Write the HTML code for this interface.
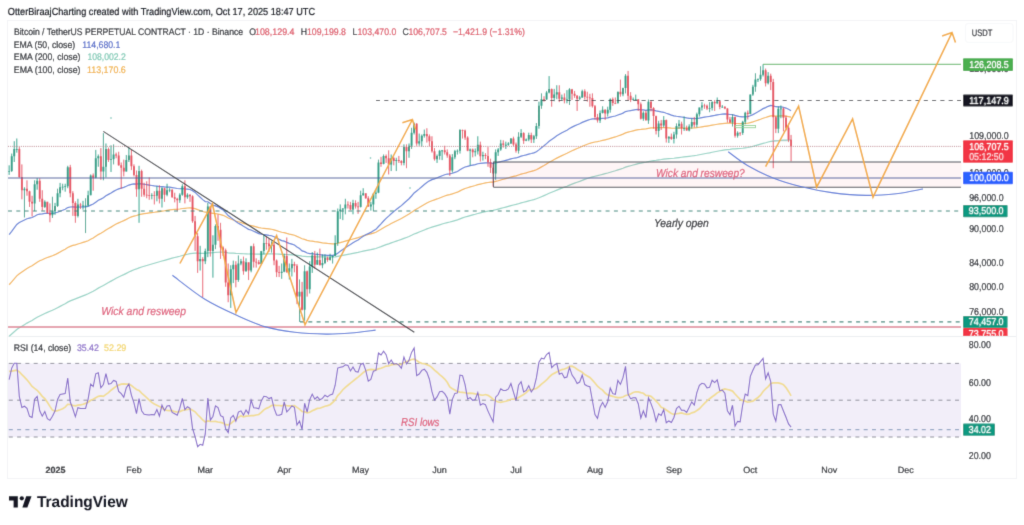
<!DOCTYPE html><html><head><meta charset="utf-8"><style>
html,body{margin:0;padding:0;background:#fff;width:1024px;height:525px;overflow:hidden}
svg{position:absolute;left:0;top:0;font-family:"Liberation Sans", sans-serif;text-rendering:geometricPrecision;will-change:transform}
</style></head><body>
<svg width="1024" height="525" viewBox="0 0 1024 525">
<defs><filter id="bl" x="0" y="0" width="1024" height="525" filterUnits="userSpaceOnUse"><feConvolveMatrix order="3" kernelMatrix="0.01331 0.08876 0.01331 0.08876 0.59172 0.08876 0.01331 0.08876 0.01331" edgeMode="duplicate" preserveAlpha="false"/></filter></defs>
<rect width="1024" height="525" fill="#fff"/>
<g filter="url(#bl)">
<rect x="7.5" y="20.5" width="1009" height="458" fill="#fff" stroke="#f3f4f6" stroke-width="1"/>
<line x1="8" y1="336.5" x2="1016" y2="336.5" stroke="#eceef1" stroke-width="1"/>
<rect x="8" y="363.40" width="953" height="73.60" fill="#7e57c2" fill-opacity="0.1"/>
<line x1="8" y1="363.40" x2="961" y2="363.40" stroke="#8d8f9a" stroke-width="1" stroke-dasharray="4 4.3" stroke-dashoffset="-0.8"/>
<line x1="8" y1="400.20" x2="961" y2="400.20" stroke="#8d8f9a" stroke-width="1" stroke-dasharray="4 4.3" stroke-dashoffset="-0.8"/>
<line x1="8" y1="437.00" x2="961" y2="437.00" stroke="#8d8f9a" stroke-width="1" stroke-dasharray="4 4.3" stroke-dashoffset="-0.8"/>
<line x1="8" y1="429.7" x2="961" y2="429.7" stroke="#7b93b5" stroke-width="1" stroke-dasharray="4 4.3" stroke-dashoffset="-0.8"/>
<path d="M9.15 336.17 L11.70 334.01 L14.25 331.78 L16.79 329.58 L19.34 327.80 L21.89 326.22 L24.44 324.64 L26.98 323.11 L29.53 321.75 L32.08 320.42 L34.62 318.86 L37.17 317.27 L39.72 315.94 L42.27 314.72 L44.81 313.46 L47.36 312.35 L49.91 311.28 L52.45 310.18 L55.00 309.03 L57.55 307.73 L60.09 306.37 L62.64 305.02 L65.19 303.68 L67.73 302.12 L70.28 300.91 L72.83 299.83 L75.38 298.92 L77.92 297.88 L80.47 296.87 L83.02 295.87 L85.56 294.88 L88.11 293.79 L90.66 292.45 L93.21 291.17 L95.75 289.65 L98.30 288.13 L100.85 286.82 L103.39 285.47 L105.94 283.90 L108.49 282.50 L111.03 281.11 L113.58 279.67 L116.13 278.27 L118.68 277.01 L121.22 275.79 L123.77 274.63 L126.32 273.35 L128.86 272.03 L131.41 270.85 L133.96 269.80 L136.50 268.93 L139.05 267.85 L141.60 267.00 L144.15 266.22 L146.69 265.46 L149.24 264.72 L151.79 263.97 L154.33 263.25 L156.88 262.47 L159.43 261.79 L161.97 261.00 L164.52 260.30 L167.07 259.55 L169.62 258.80 L172.16 258.15 L174.71 257.52 L177.26 256.92 L179.80 256.26 L182.35 255.51 L184.90 254.89 L187.44 254.26 L189.99 253.64 L192.54 253.31 L195.09 253.14 L197.63 253.22 L200.18 253.28 L202.73 253.35 L205.27 253.33 L207.82 252.84 L210.37 252.82 L212.91 252.74 L215.46 252.47 L218.01 252.23 L220.56 252.19 L223.10 252.17 L225.65 252.46 L228.20 252.87 L230.74 253.03 L233.29 253.15 L235.84 253.41 L238.38 253.51 L240.93 253.58 L243.48 253.75 L246.03 253.84 L248.57 254.00 L251.12 253.93 L253.67 254.00 L256.21 254.08 L258.76 254.18 L261.31 254.15 L263.85 254.04 L266.40 253.93 L268.95 253.86 L271.50 253.77 L274.04 253.83 L276.59 254.01 L279.14 254.20 L281.68 254.37 L284.23 254.39 L286.78 254.55 L289.32 254.69 L291.87 254.78 L294.42 254.89 L296.97 255.29 L299.51 255.64 L302.06 256.15 L304.61 256.29 L307.15 256.61 L309.70 256.71 L312.25 256.70 L314.79 256.77 L317.34 256.81 L319.89 256.89 L322.44 256.95 L324.98 256.96 L327.53 256.99 L330.08 256.99 L332.62 256.98 L335.17 256.84 L337.72 256.36 L340.26 255.87 L342.81 255.38 L345.36 254.85 L347.91 254.32 L350.45 253.86 L353.00 253.32 L355.55 252.83 L358.09 252.36 L360.64 251.75 L363.19 251.14 L365.73 250.58 L368.28 250.12 L370.83 249.65 L373.38 249.06 L375.92 248.46 L378.47 247.53 L381.02 246.62 L383.56 245.63 L386.11 244.68 L388.66 243.81 L391.20 242.88 L393.75 242.00 L396.30 241.11 L398.85 240.24 L401.39 239.41 L403.94 238.40 L406.49 237.45 L409.03 236.45 L411.58 235.30 L414.13 234.06 L416.67 233.07 L419.22 232.06 L421.77 231.01 L424.31 229.94 L426.86 228.91 L429.41 227.96 L431.96 227.13 L434.50 226.41 L437.05 225.65 L439.60 224.85 L442.14 224.05 L444.69 223.28 L447.24 222.55 L449.79 222.01 L452.33 221.32 L454.88 220.57 L457.43 219.83 L459.97 218.85 L462.52 217.88 L465.07 217.02 L467.61 216.31 L470.16 215.60 L472.71 214.92 L475.26 214.25 L477.80 213.51 L480.35 212.90 L482.90 212.29 L485.44 211.70 L487.99 211.18 L490.54 210.73 L493.08 210.34 L495.63 209.73 L498.18 209.09 L500.73 208.39 L503.27 207.72 L505.82 207.05 L508.37 206.37 L510.91 205.65 L513.46 205.00 L516.01 204.43 L518.55 203.71 L521.10 202.95 L523.65 202.29 L526.20 201.62 L528.74 200.91 L531.29 200.26 L533.84 199.58 L536.38 198.79 L538.93 197.78 L541.48 196.69 L544.02 195.62 L546.57 194.48 L549.12 193.31 L551.66 192.26 L554.21 191.19 L556.76 190.10 L559.31 189.10 L561.85 188.10 L564.40 187.14 L566.95 186.19 L569.49 185.12 L572.04 184.12 L574.59 183.16 L577.13 182.25 L579.68 181.33 L582.23 180.34 L584.78 179.44 L587.32 178.55 L589.87 177.68 L592.42 176.91 L594.96 176.28 L597.51 175.69 L600.06 175.02 L602.61 174.33 L605.15 173.69 L607.70 173.00 L610.25 172.21 L612.79 171.47 L615.34 170.74 L617.89 169.89 L620.43 169.08 L622.98 168.20 L625.53 167.19 L628.08 166.43 L630.62 165.72 L633.17 165.01 L635.72 164.31 L638.26 163.67 L640.81 163.20 L643.36 162.67 L645.90 162.23 L648.45 161.59 L651.00 161.03 L653.55 160.56 L656.09 160.26 L658.64 159.87 L661.19 159.52 L663.73 159.11 L666.28 158.90 L668.83 158.68 L671.37 158.48 L673.92 158.23 L676.47 157.90 L679.01 157.55 L681.56 157.25 L684.11 156.95 L686.66 156.68 L689.20 156.37 L691.75 156.02 L694.30 155.70 L696.84 155.27 L699.39 154.77 L701.94 154.25 L704.49 153.75 L707.03 153.27 L709.58 152.80 L712.13 152.27 L714.67 151.76 L717.22 151.23 L719.77 150.77 L722.31 150.31 L724.86 149.88 L727.41 149.56 L729.96 149.29 L732.50 148.95 L735.05 148.82 L737.60 148.66 L740.14 148.50 L742.69 148.23 L745.24 147.86 L747.78 147.51 L750.33 146.95 L752.88 146.32 L755.43 145.61 L757.97 144.90 L760.52 144.15 L763.07 143.36 L765.61 142.72 L768.16 142.01 L770.71 141.37 L773.25 141.13 L775.80 141.00 L778.35 140.67 L780.90 140.34 L783.44 140.11 L785.99 139.99 L788.54 139.98 L791.08 140.04" fill="none" stroke="#94d2c4" stroke-width="1.2"/>
<path d="M9.15 284.76 L11.70 281.86 L14.25 278.84 L16.79 275.90 L19.34 273.73 L21.89 271.93 L24.44 270.14 L26.98 268.45 L29.53 267.03 L32.08 265.69 L34.62 263.94 L37.17 262.15 L39.72 260.81 L42.27 259.68 L44.81 258.47 L47.36 257.52 L49.91 256.65 L52.45 255.71 L55.00 254.67 L57.55 253.38 L60.09 251.98 L62.64 250.59 L65.19 249.23 L67.73 247.47 L70.28 246.33 L72.83 245.43 L75.38 244.83 L77.92 244.00 L80.47 243.21 L83.02 242.43 L85.56 241.67 L88.11 240.70 L90.66 239.32 L93.21 238.03 L95.75 236.31 L98.30 234.60 L100.85 233.27 L103.39 231.86 L105.94 230.07 L108.49 228.58 L111.03 227.11 L113.58 225.56 L116.13 224.07 L118.68 222.84 L121.22 221.68 L123.77 220.64 L126.32 219.36 L128.86 218.01 L131.41 216.93 L133.96 216.07 L136.50 215.52 L139.05 214.60 L141.60 214.07 L144.15 213.68 L146.69 213.31 L149.24 212.96 L151.79 212.60 L154.33 212.26 L156.88 211.82 L159.43 211.56 L161.97 211.09 L164.52 210.76 L167.07 210.34 L169.62 209.93 L172.16 209.67 L174.71 209.45 L177.26 209.27 L179.80 208.98 L182.35 208.52 L184.90 208.29 L187.44 208.02 L189.99 207.79 L192.54 208.05 L195.09 208.59 L197.63 209.58 L200.18 210.51 L202.73 211.46 L205.27 212.21 L207.82 212.10 L210.37 212.84 L212.91 213.45 L215.46 213.70 L218.01 214.01 L220.56 214.65 L223.10 215.33 L225.65 216.58 L228.20 218.02 L230.74 218.99 L233.29 219.85 L235.84 220.97 L238.38 221.78 L240.93 222.53 L243.48 223.45 L246.03 224.19 L248.57 225.07 L251.12 225.48 L253.67 226.17 L256.21 226.86 L258.76 227.57 L261.31 228.02 L263.85 228.32 L266.40 228.61 L268.95 228.96 L271.50 229.27 L274.04 229.87 L276.59 230.67 L279.14 231.47 L281.68 232.24 L284.23 232.70 L286.78 233.44 L289.32 234.11 L291.87 234.68 L294.42 235.28 L296.97 236.42 L299.51 237.46 L302.06 238.79 L304.61 239.41 L307.15 240.35 L309.70 240.85 L312.25 241.14 L314.79 241.59 L317.34 241.95 L319.89 242.40 L322.44 242.80 L324.98 243.09 L327.53 243.42 L330.08 243.69 L332.62 243.93 L335.17 243.91 L337.72 243.24 L340.26 242.55 L342.81 241.86 L345.36 241.09 L347.91 240.35 L350.45 239.72 L353.00 238.96 L355.55 238.30 L358.09 237.66 L360.64 236.78 L363.19 235.88 L365.73 235.10 L368.28 234.52 L370.83 233.91 L373.38 233.08 L375.92 232.25 L378.47 230.76 L381.02 229.35 L383.56 227.78 L386.11 226.30 L388.66 225.00 L391.20 223.58 L393.75 222.26 L396.30 220.95 L398.85 219.69 L401.39 218.50 L403.94 216.98 L406.49 215.59 L409.03 214.11 L411.58 212.36 L414.13 210.44 L416.67 209.02 L419.22 207.58 L421.77 206.05 L424.31 204.52 L426.86 203.07 L429.41 201.76 L431.96 200.71 L434.50 199.85 L437.05 198.94 L439.60 197.94 L442.14 196.95 L444.69 196.03 L447.24 195.19 L449.79 194.69 L452.33 193.92 L454.88 193.04 L457.43 192.17 L459.97 190.86 L462.52 189.58 L465.07 188.50 L467.61 187.72 L470.16 186.93 L472.71 186.22 L475.26 185.51 L477.80 184.67 L480.35 184.09 L482.90 183.50 L485.44 182.93 L487.99 182.51 L490.54 182.21 L493.08 182.04 L495.63 181.43 L498.18 180.78 L500.73 180.01 L503.27 179.29 L505.82 178.58 L508.37 177.86 L510.91 177.05 L513.46 176.38 L516.01 175.86 L518.55 175.05 L521.10 174.19 L523.65 173.50 L526.20 172.80 L528.74 172.02 L531.29 171.36 L533.84 170.64 L536.38 169.71 L538.93 168.36 L541.48 166.89 L544.02 165.47 L546.57 163.91 L549.12 162.31 L551.66 160.95 L554.21 159.54 L556.76 158.11 L559.31 156.86 L561.85 155.62 L564.40 154.46 L566.95 153.31 L569.49 151.96 L572.04 150.74 L574.59 149.59 L577.13 148.53 L579.68 147.46 L582.23 146.29 L584.78 145.25 L587.32 144.26 L589.87 143.30 L592.42 142.54 L594.96 142.02 L597.51 141.58 L600.06 141.00 L602.61 140.36 L605.15 139.81 L607.70 139.20 L610.25 138.37 L612.79 137.64 L615.34 136.94 L617.89 136.00 L620.43 135.14 L622.98 134.16 L625.53 132.93 L628.08 132.17 L630.62 131.51 L633.17 130.85 L635.72 130.20 L638.26 129.67 L640.81 129.45 L643.36 129.11 L645.90 128.94 L648.45 128.38 L651.00 127.97 L653.55 127.73 L656.09 127.79 L658.64 127.71 L661.19 127.67 L663.73 127.51 L666.28 127.73 L668.83 127.90 L671.37 128.12 L673.92 128.24 L676.47 128.20 L679.01 128.11 L681.56 128.12 L684.11 128.12 L686.66 128.17 L689.20 128.13 L691.75 128.01 L694.30 127.95 L696.84 127.67 L699.39 127.27 L701.94 126.83 L704.49 126.40 L707.03 126.04 L709.58 125.67 L712.13 125.20 L714.67 124.75 L717.22 124.28 L719.77 123.93 L722.31 123.58 L724.86 123.28 L727.41 123.20 L729.96 123.19 L732.50 123.06 L735.05 123.31 L737.60 123.50 L740.14 123.69 L742.69 123.65 L745.24 123.43 L747.78 123.24 L750.33 122.65 L752.88 121.92 L755.43 121.04 L757.97 120.18 L760.52 119.24 L763.07 118.22 L765.61 117.50 L768.16 116.64 L770.71 115.93 L773.25 115.95 L775.80 116.20 L778.35 116.06 L780.90 115.90 L783.44 115.94 L785.99 116.17 L788.54 116.63 L791.08 117.20" fill="none" stroke="#f3b454" stroke-width="1.2"/>
<path d="M9.15 234.68 L11.70 231.36 L14.25 227.86 L16.79 224.51 L19.34 222.55 L21.89 221.24 L24.44 219.92 L26.98 218.77 L29.53 218.09 L32.08 217.51 L34.62 216.16 L37.17 214.72 L39.72 214.09 L42.27 213.81 L44.81 213.33 L47.36 213.31 L49.91 213.39 L52.45 213.30 L55.00 213.01 L57.55 212.22 L60.09 211.22 L62.64 210.23 L65.19 209.27 L67.73 207.55 L70.28 206.98 L72.83 206.82 L75.38 207.17 L77.92 207.06 L80.47 207.00 L83.02 206.94 L85.56 206.88 L88.11 206.42 L90.66 205.17 L93.21 204.07 L95.75 202.19 L98.30 200.31 L100.85 199.15 L103.39 197.83 L105.94 195.82 L108.49 194.37 L111.03 192.94 L113.58 191.38 L116.13 189.92 L118.68 188.93 L121.22 188.08 L123.77 187.42 L126.32 186.32 L128.86 185.07 L131.41 184.32 L133.96 183.95 L136.50 184.16 L139.05 183.64 L141.60 183.83 L144.15 184.26 L146.69 184.68 L149.24 185.11 L151.79 185.50 L154.33 185.90 L156.88 186.09 L159.43 186.58 L161.97 186.65 L164.52 186.96 L167.07 187.09 L169.62 187.19 L172.16 187.58 L174.71 188.02 L177.26 188.49 L179.80 188.74 L182.35 188.64 L184.90 188.97 L187.44 189.20 L189.99 189.47 L192.54 190.68 L195.09 192.39 L197.63 194.91 L200.18 197.27 L202.73 199.63 L205.27 201.54 L207.82 201.73 L210.37 203.57 L212.91 205.12 L215.46 205.92 L218.01 206.83 L220.56 208.37 L223.10 209.95 L225.65 212.60 L228.20 215.59 L230.74 217.59 L233.29 219.35 L235.84 221.60 L238.38 223.18 L240.93 224.61 L243.48 226.36 L246.03 227.72 L248.57 229.33 L251.12 229.99 L253.67 231.19 L256.21 232.38 L258.76 233.58 L261.31 234.25 L263.85 234.59 L266.40 234.94 L268.95 235.38 L271.50 235.75 L274.04 236.70 L276.59 238.05 L279.14 239.37 L281.68 240.60 L284.23 241.19 L286.78 242.35 L289.32 243.34 L291.87 244.14 L294.42 244.97 L296.97 246.90 L299.51 248.58 L302.06 250.84 L304.61 251.62 L307.15 253.04 L309.70 253.56 L312.25 253.63 L314.79 254.06 L317.34 254.29 L319.89 254.72 L322.44 255.04 L324.98 255.14 L327.53 255.33 L330.08 255.41 L332.62 255.43 L335.17 254.94 L337.72 253.14 L340.26 251.36 L342.81 249.61 L345.36 247.76 L347.91 246.01 L350.45 244.53 L353.00 242.82 L355.55 241.35 L358.09 239.95 L360.64 238.12 L363.19 236.28 L365.73 234.73 L368.28 233.59 L370.83 232.42 L373.38 230.84 L375.92 229.29 L378.47 226.49 L381.02 223.88 L383.56 221.02 L386.11 218.40 L388.66 216.17 L391.20 213.76 L393.75 211.59 L396.30 209.46 L398.85 207.47 L401.39 205.65 L403.94 203.21 L406.49 201.07 L409.03 198.78 L411.58 196.01 L414.13 192.97 L416.67 190.93 L419.22 188.88 L421.77 186.69 L424.31 184.51 L426.86 182.53 L429.41 180.84 L431.96 179.64 L434.50 178.83 L437.05 177.91 L439.60 176.81 L442.14 175.75 L444.69 174.80 L447.24 174.03 L449.79 173.89 L452.33 173.23 L454.88 172.35 L457.43 171.49 L459.97 169.79 L462.52 168.19 L465.07 166.95 L467.61 166.31 L470.16 165.64 L472.71 165.10 L475.26 164.55 L477.80 163.76 L480.35 163.47 L482.90 163.14 L485.44 162.85 L487.99 162.82 L490.54 163.01 L493.08 163.42 L495.63 162.97 L498.18 162.43 L500.73 161.67 L503.27 161.00 L505.82 160.36 L508.37 159.69 L510.91 158.84 L513.46 158.26 L516.01 157.97 L518.55 157.12 L521.10 156.15 L523.65 155.54 L526.20 154.90 L528.74 154.10 L531.29 153.51 L533.84 152.82 L536.38 151.74 L538.93 149.86 L541.48 147.77 L544.02 145.79 L546.57 143.59 L549.12 141.32 L551.66 139.55 L554.21 137.70 L556.76 135.83 L559.31 134.33 L561.85 132.83 L564.40 131.52 L566.95 130.22 L569.49 128.55 L572.04 127.14 L574.59 125.87 L577.13 124.78 L579.68 123.68 L582.23 122.37 L584.78 121.34 L587.32 120.38 L589.87 119.48 L592.42 118.96 L594.96 118.88 L597.51 118.94 L600.06 118.70 L602.61 118.35 L605.15 118.15 L607.70 117.82 L610.25 117.07 L612.79 116.51 L615.34 115.99 L617.89 115.01 L620.43 114.18 L622.98 113.13 L625.53 111.60 L628.08 110.98 L630.62 110.54 L633.17 110.09 L635.72 109.66 L638.26 109.44 L640.81 109.80 L643.36 109.91 L645.90 110.32 L648.45 109.97 L651.00 109.89 L653.55 110.13 L656.09 110.93 L658.64 111.42 L661.19 111.96 L663.73 112.28 L666.28 113.28 L668.83 114.18 L671.37 115.12 L673.92 115.87 L676.47 116.26 L679.01 116.56 L681.56 117.01 L684.11 117.45 L686.66 117.95 L689.20 118.28 L691.75 118.43 L694.30 118.68 L696.84 118.51 L699.39 118.07 L701.94 117.57 L704.49 117.11 L707.03 116.76 L709.58 116.41 L712.13 115.84 L714.67 115.35 L717.22 114.79 L719.77 114.48 L722.31 114.17 L724.86 113.95 L727.41 114.16 L729.96 114.49 L732.50 114.58 L735.05 115.40 L737.60 116.07 L740.14 116.72 L742.69 116.92 L745.24 116.75 L747.78 116.64 L750.33 115.75 L752.88 114.59 L755.43 113.17 L757.97 111.79 L760.52 110.29 L763.07 108.65 L765.61 107.63 L768.16 106.33 L770.71 105.36 L773.25 105.82 L775.80 106.70 L778.35 106.78 L780.90 106.85 L783.44 107.27 L785.99 108.06 L788.54 109.27 L791.08 110.66" fill="none" stroke="#5f7ed6" stroke-width="1.2"/>
<path d="M9.15 165.33V174.93 M11.70 153.58V172.03 M14.25 141.20V162.01 M16.79 138.50V152.65 M24.44 187.21V217.48 M34.62 180.30V211.17 M37.17 178.05V189.71 M44.81 200.32V208.05 M52.45 196.76V218.01 M55.00 202.88V214.84 M57.55 188.71V207.01 M60.09 182.90V197.26 M62.64 183.74V190.21 M65.19 183.74V191.71 M67.73 165.80V188.21 M77.92 198.79V217.48 M83.02 200.83V209.61 M85.56 198.28V233.07 M88.11 190.71V206.49 M90.66 174.45V195.24 M95.75 149.88V178.34 M98.30 154.51V166.76 M103.39 133.12V180.30 M105.94 143.47V177.37 M111.03 145.29V172.03 M113.58 144.38V164.38 M126.32 154.98V171.55 M128.86 147.12V162.01 M139.05 165.80V222.80 M151.79 193.22V199.30 M156.88 186.22V201.34 M161.97 187.21V207.53 M167.07 183.74V196.25 M169.62 188.21V192.21 M179.80 193.22V202.88 M182.35 184.24V195.74 M187.44 193.22V198.79 M200.18 245.81V270.54 M205.27 248.62V264.09 M207.82 202.88V257.16 M212.91 235.27V277.67 M215.46 224.41V249.18 M230.74 265.26V307.93 M233.29 260.61V283.09 M238.38 255.44V281.88 M240.93 258.88V265.26 M246.03 258.31V271.72 M251.12 245.81V272.31 M261.31 250.88V264.09 M263.85 234.72V254.29 M271.50 241.34V252.58 M281.68 263.51V278.87 M284.23 253.72V272.31 M289.32 263.51V279.47 M291.87 258.88V276.48 M299.51 279.47V321.49 M304.61 265.26V320.84 M309.70 261.19V293.49 M312.25 252.02V272.91 M317.34 252.58V264.68 M322.44 254.29V268.19 M324.98 254.29V264.09 M330.08 253.72V260.61 M332.62 255.44V263.51 M335.17 235.27V256.01 M337.72 208.56V245.81 M340.26 204.43V219.07 M342.81 208.05V220.13 M345.36 198.79V214.31 M353.00 199.81V214.31 M360.64 190.71V207.53 M363.19 188.21V195.74 M370.83 201.86V210.65 M373.38 193.22V211.17 M375.92 189.21V198.79 M378.47 159.65V193.22 M383.56 154.51V164.38 M391.20 154.51V171.07 M396.30 157.78V171.07 M403.94 144.38V165.33 M409.03 143.47V157.78 M411.58 127.81V148.96 M414.13 122.55V134.46 M419.22 133.57V145.75 M421.77 134.46V146.67 M424.31 129.57V137.60 M437.05 154.51V162.96 M439.60 149.88V159.65 M442.14 149.88V160.12 M452.33 154.05V172.51 M454.88 149.88V159.18 M457.43 149.42V154.51 M459.97 129.13V153.58 M470.16 148.50V165.33 M475.26 148.50V156.37 M477.80 136.25V154.51 M482.90 151.73V160.60 M495.63 149.42V179.81 M498.18 148.04V155.91 M500.73 139.85V150.80 M505.82 141.66V148.96 M508.37 142.11V145.75 M510.91 138.05V143.93 M518.55 132.23V153.58 M521.10 129.13V138.05 M526.20 138.50V141.20 M528.74 132.68V141.20 M533.84 134.91V143.02 M536.38 122.99V138.95 M538.93 101.66V128.69 M541.48 93.38V108.81 M546.57 90.92V99.99 M549.12 76.05V93.38 M554.21 88.89V101.24 M556.76 85.24V99.16 M561.85 94.61V100.41 M566.95 90.11V103.33 M569.49 88.07V105.01 M579.68 95.85V99.99 M582.23 89.70V97.92 M600.06 110.50V122.99 M602.61 106.27V113.49 M607.70 106.69V116.49 M610.25 98.33V112.63 M617.89 91.74V103.33 M622.98 87.67V96.26 M625.53 74.07V93.38 M633.17 97.50V100.41 M635.72 94.61V99.99 M643.36 111.35V120.81 M648.45 99.58V123.86 M658.64 120.81V137.15 M663.73 116.06V127.37 M668.83 136.25V143.02 M673.92 131.79V143.47 M676.47 123.43V138.50 M679.01 119.95V128.69 M684.11 116.49V130.90 M689.20 124.30V131.35 M691.75 118.65V128.69 M696.84 112.63V127.37 M699.39 107.54V116.49 M701.94 102.08V110.50 M709.58 102.08V112.21 M712.13 101.24V110.50 M717.22 97.50V104.17 M722.31 105.01V107.96 M732.50 114.34V126.49 M737.60 131.35V137.60 M742.69 120.81V134.91 M745.24 111.78V124.30 M750.33 94.61V114.34 M752.88 84.84V95.85 M755.43 73.28V91.74 M757.97 78.43V82.02 M760.52 66.24V80.82 M763.07 64.31V76.44 M768.16 72.10V84.43 M778.35 106.27V133.12 M780.90 105.43V118.22" stroke="#159a80" stroke-width="0.9" fill="none"/>
<path d="M19.34 147.12V177.85 M21.89 164.38V199.30 M26.98 180.30V195.74 M29.53 190.71V207.01 M32.08 195.74V216.42 M39.72 178.34V201.86 M42.27 190.21V210.65 M47.36 201.86V213.79 M49.91 203.40V222.27 M70.28 164.85V197.26 M72.83 191.21V215.90 M75.38 201.34V222.80 M80.47 202.88V209.08 M93.21 173.48V190.71 M100.85 148.04V179.81 M108.49 147.58V162.01 M116.13 152.65V158.25 M118.68 151.73V165.80 M121.22 162.48V188.71 M123.77 159.65V176.39 M131.41 149.42V170.11 M133.96 164.38V176.39 M136.50 170.59V196.76 M141.60 169.63V196.76 M144.15 182.76V196.76 M146.69 181.28V198.28 M149.24 177.37V199.81 M154.33 191.21V204.43 M159.43 185.23V203.40 M164.52 187.71V201.86 M172.16 189.21V197.77 M174.71 192.72V202.37 M177.26 197.77V211.17 M184.90 180.30V203.40 M189.99 194.23V201.86 M192.54 195.24V222.80 M195.09 215.90V250.88 M197.63 233.07V272.91 M202.73 257.16V297.22 M210.37 205.97V256.58 M218.01 214.31V240.79 M220.56 222.80V258.88 M223.10 246.37V256.01 M225.65 248.62V286.74 M228.20 263.51V302.23 M235.84 261.19V287.35 M243.48 256.58V274.69 M248.57 262.35V280.07 M253.67 243.57V267.60 M256.21 258.31V267.60 M258.76 260.03V264.68 M266.40 236.36V249.75 M268.95 238.57V252.02 M274.04 243.01V265.26 M276.59 259.46V277.08 M279.14 265.84V277.08 M286.78 237.47V272.91 M294.42 261.77V272.31 M296.97 264.09V304.12 M302.06 281.88V310.48 M307.15 270.54V296.60 M314.79 250.88V268.77 M319.89 248.62V265.26 M327.53 256.58V261.77 M347.91 201.34V208.56 M350.45 201.86V210.13 M355.55 200.32V208.56 M358.09 201.86V213.79 M365.73 193.22V198.79 M368.28 196.25V207.01 M381.02 156.84V166.76 M386.11 154.51V162.96 M388.66 150.34V174.45 M393.75 156.84V165.33 M398.85 155.91V162.96 M401.39 160.12V165.33 M406.49 144.38V168.19 M416.67 122.99V145.75 M426.86 128.25V142.56 M429.41 134.46V146.21 M431.96 136.25V152.65 M434.50 148.04V160.60 M444.69 145.75V154.51 M447.24 149.42V157.78 M449.79 154.05V175.90 M462.52 129.57V138.50 M465.07 129.57V139.85 M467.61 136.25V151.26 M472.71 148.50V157.31 M480.35 141.66V161.54 M485.44 153.12V159.18 M487.99 147.12V166.76 M490.54 158.71V173.00 M493.08 163.43V186.72 M503.27 140.30V147.58 M513.46 136.70V146.21 M516.01 142.56V152.65 M523.65 132.23V143.93 M531.29 132.68V143.02 M544.02 96.26V101.66 M551.66 88.48V106.69 M559.31 85.24V102.08 M564.40 93.38V103.33 M572.04 88.89V99.99 M574.59 90.92V97.92 M577.13 95.03V110.93 M584.78 89.29V99.58 M587.32 91.74V101.66 M589.87 93.79V106.69 M592.42 93.38V107.54 M594.96 105.01V119.51 M597.51 113.92V122.55 M605.15 109.23V119.95 M612.79 97.50V105.85 M615.34 97.50V104.17 M620.43 79.62V96.68 M628.08 70.92V100.41 M630.62 92.15V102.08 M638.26 99.16V110.93 M640.81 102.49V119.51 M645.90 110.50V119.95 M651.00 101.24V111.35 M653.55 107.12V128.69 M656.09 115.63V134.46 M661.19 119.95V130.02 M666.28 119.51V142.56 M671.37 133.57V139.85 M681.56 121.68V134.46 M686.66 125.61V130.90 M694.30 116.92V127.37 M704.49 103.75V108.81 M707.03 104.59V110.08 M714.67 99.99V110.93 M719.77 100.82V109.23 M724.86 106.27V109.23 M727.41 107.96V122.55 M729.96 116.92V122.99 M735.05 116.49V137.60 M740.14 132.23V135.80 M747.78 110.50V119.51 M765.61 68.58V86.45 M770.71 73.67V90.11 M773.25 78.83V168.19 M775.80 116.06V133.12 M783.44 107.54V131.35 M785.99 115.63V130.46 M788.54 123.43V142.11 M791.08 134.91V161.21" stroke="#e54659" stroke-width="0.9" fill="none"/>
<path d="M8.20 171.07h1.9V171.87h-1.9Z M10.75 156.37h1.9V171.07h-1.9Z M13.30 148.96h1.9V156.37h-1.9Z M15.84 148.96h1.9V149.76h-1.9Z M23.49 188.71h1.9V190.21h-1.9Z M33.67 184.24h1.9V203.40h-1.9Z M36.22 180.79h1.9V184.24h-1.9Z M43.86 201.86h1.9V207.01h-1.9Z M51.50 211.17h1.9V215.37h-1.9Z M54.05 205.97h1.9V211.17h-1.9Z M56.60 193.22h1.9V205.97h-1.9Z M59.14 187.21h1.9V193.22h-1.9Z M61.69 186.72h1.9V187.52h-1.9Z M64.24 186.22h1.9V187.02h-1.9Z M66.78 167.23h1.9V186.22h-1.9Z M76.97 204.43h1.9V215.90h-1.9Z M82.07 205.46h1.9V206.26h-1.9Z M84.61 205.46h1.9V206.26h-1.9Z M87.16 195.24h1.9V205.46h-1.9Z M89.71 175.42h1.9V195.24h-1.9Z M94.80 158.25h1.9V177.85h-1.9Z M97.35 156.37h1.9V158.25h-1.9Z M102.44 166.76h1.9V171.55h-1.9Z M104.99 148.96h1.9V166.76h-1.9Z M110.08 159.18h1.9V160.12h-1.9Z M112.63 154.51h1.9V159.18h-1.9Z M125.37 160.12h1.9V171.55h-1.9Z M127.91 155.44h1.9V160.12h-1.9Z M138.10 171.07h1.9V189.21h-1.9Z M150.84 195.24h1.9V196.04h-1.9Z M155.93 190.71h1.9V195.74h-1.9Z M161.02 188.21h1.9V198.79h-1.9Z M166.12 190.21h1.9V194.73h-1.9Z M168.67 189.71h1.9V190.51h-1.9Z M178.85 194.73h1.9V200.32h-1.9Z M181.40 186.22h1.9V194.73h-1.9Z M186.49 194.73h1.9V197.26h-1.9Z M199.23 258.88h1.9V261.19h-1.9Z M204.32 250.88h1.9V261.19h-1.9Z M206.87 206.49h1.9V250.88h-1.9Z M211.96 244.69h1.9V250.88h-1.9Z M214.51 226.02h1.9V244.69h-1.9Z M229.79 269.36h1.9V295.35h-1.9Z M232.34 264.68h1.9V269.36h-1.9Z M237.43 263.51h1.9V280.07h-1.9Z M239.98 261.19h1.9V263.51h-1.9Z M245.08 262.35h1.9V271.13h-1.9Z M250.17 246.37h1.9V270.54h-1.9Z M260.36 250.88h1.9V264.09h-1.9Z M262.90 243.01h1.9V250.88h-1.9Z M270.55 244.69h1.9V246.37h-1.9Z M280.73 271.72h1.9V272.91h-1.9Z M283.28 256.01h1.9V271.72h-1.9Z M288.37 268.19h1.9V271.72h-1.9Z M290.92 264.09h1.9V268.19h-1.9Z M298.56 291.64h1.9V296.60h-1.9Z M303.66 271.13h1.9V309.84h-1.9Z M308.75 266.43h1.9V289.18h-1.9Z M311.30 255.44h1.9V266.43h-1.9Z M316.39 260.03h1.9V264.68h-1.9Z M321.49 262.93h1.9V265.26h-1.9Z M324.03 257.73h1.9V262.93h-1.9Z M329.13 257.16h1.9V260.03h-1.9Z M331.67 256.01h1.9V257.16h-1.9Z M334.22 243.01h1.9V256.01h-1.9Z M336.77 211.17h1.9V243.01h-1.9Z M339.31 209.61h1.9V211.17h-1.9Z M341.86 208.56h1.9V209.61h-1.9Z M344.41 204.43h1.9V208.56h-1.9Z M352.05 202.88h1.9V209.61h-1.9Z M359.69 195.24h1.9V207.01h-1.9Z M362.24 193.22h1.9V195.24h-1.9Z M369.88 204.43h1.9V206.49h-1.9Z M372.43 193.72h1.9V204.43h-1.9Z M374.97 192.72h1.9V193.72h-1.9Z M377.52 162.48h1.9V192.72h-1.9Z M382.61 155.91h1.9V163.90h-1.9Z M390.25 158.25h1.9V164.38h-1.9Z M395.35 160.12h1.9V161.07h-1.9Z M402.99 147.12h1.9V162.96h-1.9Z M408.08 145.75h1.9V151.26h-1.9Z M410.63 132.68h1.9V145.75h-1.9Z M413.18 123.86h1.9V132.68h-1.9Z M418.27 141.20h1.9V143.47h-1.9Z M420.82 135.80h1.9V141.20h-1.9Z M423.37 134.01h1.9V135.80h-1.9Z M436.10 155.91h1.9V159.18h-1.9Z M438.65 150.80h1.9V155.91h-1.9Z M441.19 150.34h1.9V151.14h-1.9Z M451.38 157.31h1.9V170.59h-1.9Z M453.93 151.26h1.9V157.31h-1.9Z M456.48 150.80h1.9V151.60h-1.9Z M459.02 130.02h1.9V150.80h-1.9Z M469.21 149.42h1.9V150.80h-1.9Z M474.31 151.26h1.9V152.19h-1.9Z M476.85 144.84h1.9V151.26h-1.9Z M481.95 154.98h1.9V156.37h-1.9Z M494.68 152.19h1.9V173.48h-1.9Z M497.23 149.42h1.9V152.19h-1.9Z M499.78 143.47h1.9V149.42h-1.9Z M504.87 144.84h1.9V145.64h-1.9Z M507.42 143.47h1.9V144.84h-1.9Z M509.96 138.50h1.9V143.47h-1.9Z M517.60 136.70h1.9V150.80h-1.9Z M520.15 133.12h1.9V136.70h-1.9Z M525.25 139.40h1.9V140.75h-1.9Z M527.79 134.91h1.9V139.40h-1.9Z M532.89 136.25h1.9V139.40h-1.9Z M535.43 126.05h1.9V136.25h-1.9Z M537.98 105.85h1.9V126.05h-1.9Z M540.53 99.16h1.9V105.85h-1.9Z M545.62 92.56h1.9V99.58h-1.9Z M548.17 88.89h1.9V92.56h-1.9Z M553.26 94.61h1.9V97.92h-1.9Z M555.81 92.15h1.9V94.61h-1.9Z M560.90 97.50h1.9V98.75h-1.9Z M566.00 99.58h1.9V100.41h-1.9Z M568.54 89.29h1.9V99.58h-1.9Z M578.73 97.50h1.9V98.75h-1.9Z M581.28 91.33h1.9V97.50h-1.9Z M599.11 113.06h1.9V120.38h-1.9Z M601.65 109.65h1.9V113.06h-1.9Z M606.75 109.65h1.9V113.49h-1.9Z M609.30 99.16h1.9V109.65h-1.9Z M616.94 91.74h1.9V103.33h-1.9Z M622.03 88.07h1.9V94.20h-1.9Z M624.58 75.65h1.9V88.07h-1.9Z M632.22 99.16h1.9V99.99h-1.9Z M634.77 99.16h1.9V99.96h-1.9Z M642.41 112.63h1.9V118.65h-1.9Z M647.50 101.66h1.9V120.38h-1.9Z M657.69 123.43h1.9V130.90h-1.9Z M662.78 119.95h1.9V125.61h-1.9Z M667.88 136.70h1.9V138.50h-1.9Z M672.97 134.46h1.9V138.95h-1.9Z M675.52 126.05h1.9V134.46h-1.9Z M678.06 123.86h1.9V126.05h-1.9Z M683.16 128.25h1.9V129.05h-1.9Z M688.25 126.49h1.9V130.46h-1.9Z M690.80 122.12h1.9V126.49h-1.9Z M695.89 114.34h1.9V124.74h-1.9Z M698.44 107.54h1.9V114.34h-1.9Z M700.99 105.43h1.9V107.54h-1.9Z M708.63 107.96h1.9V108.76h-1.9Z M711.18 102.08h1.9V107.96h-1.9Z M716.27 101.24h1.9V103.33h-1.9Z M721.36 106.69h1.9V107.49h-1.9Z M731.55 116.92h1.9V122.55h-1.9Z M736.65 132.68h1.9V135.80h-1.9Z M741.74 121.68h1.9V133.12h-1.9Z M744.29 112.63h1.9V121.68h-1.9Z M749.38 94.61h1.9V113.92h-1.9Z M751.93 86.86h1.9V94.61h-1.9Z M754.48 79.62h1.9V86.86h-1.9Z M757.02 79.22h1.9V80.02h-1.9Z M759.57 74.86h1.9V79.22h-1.9Z M762.12 70.14h1.9V74.86h-1.9Z M767.21 75.65h1.9V83.23h-1.9Z M777.40 108.81h1.9V128.69h-1.9Z M779.95 108.38h1.9V109.18h-1.9Z" fill="#159a80"/>
<path d="M18.39 148.96h1.9V176.88h-1.9Z M20.94 176.88h1.9V190.21h-1.9Z M26.03 188.71h1.9V191.21h-1.9Z M28.58 191.21h1.9V201.86h-1.9Z M31.13 201.86h1.9V203.40h-1.9Z M38.77 180.79h1.9V198.79h-1.9Z M41.31 198.79h1.9V207.01h-1.9Z M46.41 201.86h1.9V212.74h-1.9Z M48.96 212.74h1.9V215.37h-1.9Z M69.33 167.23h1.9V193.22h-1.9Z M71.88 193.22h1.9V202.88h-1.9Z M74.43 202.88h1.9V215.90h-1.9Z M79.52 204.43h1.9V205.46h-1.9Z M92.26 175.42h1.9V177.85h-1.9Z M99.90 156.37h1.9V171.55h-1.9Z M107.54 148.96h1.9V160.12h-1.9Z M115.18 154.51h1.9V155.44h-1.9Z M117.73 155.44h1.9V165.33h-1.9Z M120.27 165.33h1.9V167.71h-1.9Z M122.82 167.71h1.9V171.55h-1.9Z M130.46 155.44h1.9V166.28h-1.9Z M133.01 166.28h1.9V174.93h-1.9Z M135.55 174.93h1.9V189.21h-1.9Z M140.65 171.07h1.9V188.71h-1.9Z M143.20 188.71h1.9V194.73h-1.9Z M145.74 194.73h1.9V195.53h-1.9Z M148.29 195.24h1.9V196.04h-1.9Z M153.38 195.24h1.9V196.04h-1.9Z M158.48 190.71h1.9V198.79h-1.9Z M163.57 188.21h1.9V194.73h-1.9Z M171.21 189.71h1.9V197.26h-1.9Z M173.76 197.26h1.9V198.79h-1.9Z M176.31 198.79h1.9V200.32h-1.9Z M183.95 186.22h1.9V197.26h-1.9Z M189.04 194.73h1.9V196.25h-1.9Z M191.59 196.25h1.9V221.20h-1.9Z M194.14 221.20h1.9V236.36h-1.9Z M196.68 236.36h1.9V261.19h-1.9Z M201.78 258.88h1.9V261.19h-1.9Z M209.42 206.49h1.9V250.88h-1.9Z M217.06 226.02h1.9V229.81h-1.9Z M219.61 229.81h1.9V247.49h-1.9Z M222.15 247.49h1.9V250.31h-1.9Z M224.70 250.31h1.9V282.49h-1.9Z M227.25 282.49h1.9V295.35h-1.9Z M234.89 264.68h1.9V280.07h-1.9Z M242.53 261.19h1.9V271.13h-1.9Z M247.62 262.35h1.9V270.54h-1.9Z M252.72 246.37h1.9V261.77h-1.9Z M255.26 261.77h1.9V262.57h-1.9Z M257.81 262.35h1.9V264.09h-1.9Z M265.45 243.01h1.9V243.81h-1.9Z M268.00 243.57h1.9V246.37h-1.9Z M273.09 244.69h1.9V260.61h-1.9Z M275.64 260.61h1.9V272.31h-1.9Z M278.19 272.31h1.9V273.11h-1.9Z M285.83 256.01h1.9V271.72h-1.9Z M293.47 264.09h1.9V265.84h-1.9Z M296.02 265.84h1.9V296.60h-1.9Z M301.11 291.64h1.9V309.84h-1.9Z M306.20 271.13h1.9V289.18h-1.9Z M313.84 255.44h1.9V264.68h-1.9Z M318.94 260.03h1.9V265.26h-1.9Z M326.58 257.73h1.9V260.03h-1.9Z M346.96 204.43h1.9V205.23h-1.9Z M349.50 204.94h1.9V209.61h-1.9Z M354.60 202.88h1.9V206.49h-1.9Z M357.14 206.49h1.9V207.29h-1.9Z M364.78 193.22h1.9V198.28h-1.9Z M367.33 198.28h1.9V206.49h-1.9Z M380.07 162.48h1.9V163.90h-1.9Z M385.16 155.91h1.9V158.25h-1.9Z M387.71 158.25h1.9V164.38h-1.9Z M392.80 158.25h1.9V161.07h-1.9Z M397.90 160.12h1.9V161.07h-1.9Z M400.44 161.07h1.9V162.96h-1.9Z M405.54 147.12h1.9V151.26h-1.9Z M415.72 123.86h1.9V143.47h-1.9Z M425.91 134.01h1.9V136.25h-1.9Z M428.46 136.25h1.9V141.20h-1.9Z M431.01 141.20h1.9V151.26h-1.9Z M433.55 151.26h1.9V159.18h-1.9Z M443.74 150.34h1.9V152.19h-1.9Z M446.29 152.19h1.9V155.44h-1.9Z M448.84 155.44h1.9V170.59h-1.9Z M461.57 130.02h1.9V130.82h-1.9Z M464.12 130.46h1.9V137.60h-1.9Z M466.66 137.60h1.9V150.80h-1.9Z M471.76 149.42h1.9V152.19h-1.9Z M479.40 144.84h1.9V156.37h-1.9Z M484.49 154.98h1.9V155.91h-1.9Z M487.04 155.91h1.9V162.01h-1.9Z M489.59 162.01h1.9V167.71h-1.9Z M492.13 167.71h1.9V173.48h-1.9Z M502.32 143.47h1.9V144.84h-1.9Z M512.51 138.50h1.9V144.38h-1.9Z M515.06 144.38h1.9V150.80h-1.9Z M522.70 133.12h1.9V140.75h-1.9Z M530.34 134.91h1.9V139.40h-1.9Z M543.07 99.16h1.9V99.96h-1.9Z M550.71 88.89h1.9V97.92h-1.9Z M558.36 92.15h1.9V98.75h-1.9Z M563.45 97.50h1.9V100.41h-1.9Z M571.09 89.29h1.9V93.79h-1.9Z M573.64 93.79h1.9V95.85h-1.9Z M576.18 95.85h1.9V98.75h-1.9Z M583.83 91.33h1.9V96.68h-1.9Z M586.37 96.68h1.9V97.50h-1.9Z M588.92 97.50h1.9V98.30h-1.9Z M591.47 97.92h1.9V106.27h-1.9Z M594.01 106.27h1.9V116.92h-1.9Z M596.56 116.92h1.9V120.38h-1.9Z M604.20 109.65h1.9V113.49h-1.9Z M611.84 99.16h1.9V102.91h-1.9Z M614.39 102.91h1.9V103.71h-1.9Z M619.48 91.74h1.9V94.20h-1.9Z M627.12 75.65h1.9V95.85h-1.9Z M629.67 95.85h1.9V99.99h-1.9Z M637.31 99.16h1.9V104.17h-1.9Z M639.86 104.17h1.9V118.65h-1.9Z M644.95 112.63h1.9V120.38h-1.9Z M650.05 101.66h1.9V107.96h-1.9Z M652.60 107.96h1.9V116.06h-1.9Z M655.14 116.06h1.9V130.90h-1.9Z M660.24 123.43h1.9V125.61h-1.9Z M665.33 119.95h1.9V138.50h-1.9Z M670.42 136.70h1.9V138.95h-1.9Z M680.61 123.86h1.9V128.25h-1.9Z M685.71 128.25h1.9V130.46h-1.9Z M693.35 122.12h1.9V124.74h-1.9Z M703.53 105.43h1.9V106.23h-1.9Z M706.08 105.85h1.9V108.38h-1.9Z M713.72 102.08h1.9V103.33h-1.9Z M718.82 101.24h1.9V107.12h-1.9Z M723.91 106.69h1.9V108.38h-1.9Z M726.46 108.38h1.9V119.51h-1.9Z M729.00 119.51h1.9V122.55h-1.9Z M734.10 116.92h1.9V135.80h-1.9Z M739.19 132.68h1.9V133.48h-1.9Z M746.83 112.63h1.9V113.92h-1.9Z M764.66 70.14h1.9V83.23h-1.9Z M769.76 75.65h1.9V82.02h-1.9Z M772.30 82.02h1.9V117.35h-1.9Z M774.85 117.35h1.9V128.69h-1.9Z M782.49 108.38h1.9V117.78h-1.9Z M785.04 117.78h1.9V127.81h-1.9Z M787.59 127.81h1.9V139.85h-1.9Z M790.13 139.72h1.9V146.17h-1.9Z" fill="#e54659"/>
<rect x="493.5" y="162" width="468" height="25.2" fill="#f23645" fill-opacity="0.05"/>
<path d="M493.5 187.2V162H961M493.5 187.2H961" fill="none" stroke="#4c4f57" stroke-width="1.05"/>
<line x1="8" y1="146.4" x2="961" y2="146.4" stroke="#bb7f88" stroke-width="1" stroke-dasharray="1 1.15"/>
<line x1="8" y1="178" x2="961" y2="178" stroke="#56659e" stroke-width="1"/>
<line x1="8" y1="211" x2="961" y2="211" stroke="#40877c" stroke-width="1.1" stroke-dasharray="4 4.3"/>
<line x1="376" y1="100.5" x2="961" y2="100.5" stroke="#44474f" stroke-width="1.15" stroke-dasharray="4 4.3"/>
<line x1="763" y1="64.3" x2="961" y2="64.3" stroke="#5cb25f" stroke-width="1"/>
<line x1="299.7" y1="315" x2="299.7" y2="321.9" stroke="#3aa79a" stroke-width="1"/>
<line x1="300" y1="321.9" x2="961" y2="321.9" stroke="#40877c" stroke-width="1.1" stroke-dasharray="4 4.3"/>
<line x1="8" y1="327" x2="961" y2="327" stroke="#dc8092" stroke-width="1.4"/>
<g fill="#5bb8a8"><circle cx="111" cy="118" r="0.8"/><circle cx="370.5" cy="158" r="0.8"/><circle cx="410" cy="188" r="0.8"/></g>
<rect x="735.5" y="125.5" width="20" height="2.2" fill="none" stroke="#8fd18f" stroke-width="0.9"/>
<line x1="773" y1="140.7" x2="788" y2="140.7" stroke="#a9c9c4" stroke-width="1"/>
<line x1="103.3" y1="131.4" x2="414.3" y2="332.2" stroke="#303238" stroke-width="1.1"/>
<path d="M172.40 275.30 C177.82 279.30 193.87 292.48 204.90 299.30 C215.93 306.12 228.48 311.60 238.60 316.20 C248.72 320.80 256.23 324.22 265.60 326.90 C274.97 329.58 284.70 331.10 294.80 332.30 C304.90 333.50 316.85 333.98 326.20 334.10 C335.55 334.22 342.67 333.67 350.90 333.00 C359.13 332.33 371.48 330.58 375.60 330.10" fill="none" stroke="#5273d6" stroke-width="1.1"/>
<path d="M728.20 151.80 C731.48 154.13 740.32 161.40 747.90 165.80 C755.48 170.20 764.75 174.70 773.70 178.20 C782.65 181.70 791.93 184.40 801.60 186.80 C811.27 189.20 820.95 191.17 831.70 192.60 C842.45 194.03 855.35 195.22 866.10 195.40 C876.85 195.58 886.72 194.77 896.20 193.70 C905.68 192.63 918.53 189.78 923.00 189.00" fill="none" stroke="#5273d6" stroke-width="1.1"/>
<path d="M179.90 263.50 L212.40 203.80 L236.00 312.50 L276.60 235.60 L305.00 324.80 L412.40 119.50" fill="none" stroke="#f2a93a" stroke-width="1.55" stroke-linejoin="miter"/>
<path d="M402.38 122.64L412.40 119.50L415.54 129.52" fill="none" stroke="#f2a93a" stroke-width="1.55"/>
<path d="M765.60 166.60 L798.60 106.10 L816.60 187.20 L852.60 118.80 L873.00 197.20 L952.00 32.60" fill="none" stroke="#f2a93a" stroke-width="1.55" stroke-linejoin="miter"/>
<path d="M942.09 36.08L952.00 32.60L955.48 42.51" fill="none" stroke="#f2a93a" stroke-width="1.55"/>
<path d="M9.15 371.39 L11.70 371.20 L14.25 370.66 L16.79 370.12 L19.34 371.98 L21.89 374.60 L24.44 377.14 L26.98 379.81 L29.53 383.07 L32.08 386.40 L34.62 388.44 L37.17 390.27 L39.72 393.13 L42.27 396.37 L44.81 398.66 L47.36 402.27 L49.91 406.35 L52.45 410.14 L55.00 411.17 L57.55 410.59 L60.09 409.75 L62.64 408.73 L65.19 407.10 L67.73 404.29 L70.28 404.48 L72.83 405.37 L75.38 405.80 L77.92 405.19 L80.47 404.97 L83.02 404.23 L85.56 403.38 L88.11 402.16 L90.66 400.24 L93.21 399.31 L95.75 397.85 L98.30 396.33 L100.85 395.92 L103.39 396.39 L105.94 394.37 L108.49 392.61 L111.03 390.23 L113.58 388.29 L116.13 386.36 L118.68 385.14 L121.22 384.09 L123.77 383.95 L126.32 384.20 L128.86 384.03 L131.41 385.54 L133.96 387.68 L136.50 389.53 L139.05 390.53 L141.60 393.17 L144.15 395.33 L146.69 397.55 L149.24 400.02 L151.79 402.38 L154.33 404.06 L156.88 405.20 L159.43 406.55 L161.97 407.80 L164.52 409.70 L167.07 410.48 L169.62 410.68 L172.16 410.60 L174.71 411.69 L177.26 412.01 L179.80 411.57 L182.35 410.40 L184.90 410.02 L187.44 409.46 L189.99 408.99 L192.54 410.33 L195.09 411.80 L197.63 414.77 L200.18 417.17 L202.73 419.96 L205.27 421.99 L207.82 420.95 L210.37 421.41 L212.91 421.50 L215.46 421.33 L218.01 421.99 L220.56 422.42 L223.10 423.15 L225.65 424.62 L228.20 424.92 L230.74 423.58 L233.29 421.34 L235.84 419.69 L238.38 417.33 L240.93 415.67 L243.48 416.90 L246.03 416.18 L248.57 415.98 L251.12 415.58 L253.67 415.59 L256.21 415.04 L258.76 414.46 L261.31 412.47 L263.85 409.88 L266.40 408.36 L268.95 407.16 L271.50 405.47 L274.04 405.19 L276.59 405.48 L279.14 405.49 L281.68 405.80 L284.23 404.94 L286.78 405.78 L289.32 405.89 L291.87 405.75 L294.42 405.64 L296.97 407.36 L299.51 409.13 L302.06 411.47 L304.61 411.81 L307.15 412.86 L309.70 412.25 L312.25 410.76 L314.79 409.62 L317.34 408.37 L319.89 408.23 L322.44 407.26 L324.98 406.26 L327.53 405.61 L330.08 404.72 L332.62 402.51 L335.17 399.95 L337.72 395.56 L340.26 393.00 L342.81 389.76 L345.36 387.27 L347.91 385.22 L350.45 383.20 L353.00 381.07 L355.55 379.04 L358.09 377.16 L360.64 374.96 L363.19 372.56 L365.73 370.81 L368.28 369.88 L370.83 369.46 L373.38 369.69 L375.92 369.91 L378.47 368.92 L381.02 368.22 L383.56 367.20 L386.11 366.04 L388.66 365.81 L391.20 365.00 L393.75 364.44 L396.30 364.38 L398.85 364.51 L401.39 364.37 L403.94 362.65 L406.49 361.55 L409.03 360.76 L411.58 359.47 L414.13 359.11 L416.67 360.58 L419.22 362.21 L421.77 363.33 L424.31 363.72 L426.86 364.60 L429.41 365.67 L431.96 367.68 L434.50 370.18 L437.05 372.22 L439.60 374.70 L442.14 376.65 L444.69 379.05 L447.24 382.29 L449.79 387.02 L452.33 388.72 L454.88 390.10 L457.43 391.70 L459.97 392.13 L462.52 392.36 L465.07 392.75 L467.61 393.27 L470.16 393.08 L472.71 393.34 L475.26 393.89 L477.80 393.99 L480.35 394.81 L482.90 395.22 L485.44 394.54 L487.99 395.38 L490.54 397.04 L493.08 399.11 L495.63 400.69 L498.18 402.04 L500.73 402.33 L503.27 401.73 L505.82 401.22 L508.37 400.40 L510.91 399.26 L513.46 399.22 L516.01 398.89 L518.55 397.57 L521.10 395.93 L523.65 394.56 L526.20 392.69 L528.74 390.10 L531.29 389.73 L533.84 389.29 L536.38 388.51 L538.93 386.50 L541.48 384.19 L544.02 382.04 L546.57 379.98 L549.12 377.14 L551.66 374.79 L554.21 373.37 L556.76 372.06 L559.31 370.79 L561.85 369.55 L564.40 368.99 L566.95 367.92 L569.49 366.42 L572.04 366.22 L574.59 367.38 L577.13 369.19 L579.68 370.84 L582.23 372.30 L584.78 374.59 L587.32 375.90 L589.87 377.44 L592.42 380.11 L594.96 383.00 L597.51 386.24 L600.06 388.33 L602.61 390.14 L605.15 393.01 L607.70 394.91 L610.25 395.58 L612.79 396.31 L615.34 397.19 L617.89 397.57 L620.43 397.56 L622.98 396.97 L625.53 395.52 L628.08 395.05 L630.62 393.92 L633.17 392.44 L635.72 391.77 L638.26 391.87 L640.81 392.64 L643.36 393.28 L645.90 395.39 L648.45 395.68 L651.00 396.34 L653.55 398.50 L656.09 401.13 L658.64 403.71 L661.19 407.22 L663.73 408.32 L666.28 410.05 L668.83 411.70 L671.37 413.46 L673.92 414.44 L676.47 413.76 L679.01 413.43 L681.56 412.91 L684.11 413.80 L686.66 414.43 L689.20 414.20 L691.75 412.81 L694.30 412.18 L696.84 410.54 L699.39 408.81 L701.94 405.99 L704.49 403.34 L707.03 400.87 L709.58 398.72 L712.13 396.71 L714.67 395.01 L717.22 392.85 L719.77 391.45 L722.31 389.86 L724.86 388.85 L727.41 389.48 L729.96 390.18 L732.50 391.08 L735.05 393.99 L737.60 396.71 L740.14 399.42 L742.69 400.65 L745.24 401.12 L747.78 402.23 L750.33 401.79 L752.88 401.10 L755.43 399.26 L757.97 397.46 L760.52 395.20 L763.07 391.46 L765.61 388.90 L768.16 386.59 L770.71 383.40 L773.25 382.89 L775.80 382.84 L778.35 382.83 L780.90 383.57 L783.44 384.66 L785.99 387.58 L788.54 391.41 L791.08 395.84" fill="none" stroke="#f1dc90" stroke-width="1.7"/>
<path d="M9.15 379.60 L11.70 368.12 L14.25 363.20 L16.79 363.20 L19.34 396.71 L21.89 407.55 L24.44 406.22 L26.98 408.24 L29.53 416.30 L32.08 417.40 L34.62 399.31 L37.17 396.41 L39.72 410.76 L42.27 416.21 L44.81 411.56 L47.36 418.72 L49.91 420.36 L52.45 416.21 L55.00 411.09 L57.55 399.45 L60.09 394.41 L62.64 393.99 L65.19 393.53 L67.73 378.03 L70.28 402.01 L72.83 408.77 L75.38 416.79 L77.92 407.73 L80.47 408.41 L83.02 408.41 L85.56 408.41 L88.11 399.20 L90.66 384.16 L93.21 386.52 L95.75 373.89 L98.30 372.80 L100.85 387.78 L103.39 384.56 L105.94 373.70 L108.49 384.15 L111.03 383.55 L113.58 380.49 L116.13 381.46 L118.68 391.34 L121.22 393.60 L123.77 397.26 L126.32 387.72 L128.86 384.08 L131.41 395.10 L133.96 402.78 L136.50 413.58 L139.05 398.59 L141.60 410.73 L144.15 414.36 L146.69 414.67 L149.24 415.00 L151.79 414.51 L154.33 414.89 L156.88 409.54 L159.43 416.11 L161.97 405.21 L164.52 410.70 L167.07 406.09 L169.62 405.57 L172.16 412.46 L174.71 413.80 L177.26 415.20 L179.80 408.17 L182.35 398.31 L184.90 409.65 L187.44 406.74 L189.99 408.30 L192.54 428.34 L195.09 436.67 L197.63 446.72 L200.18 444.31 L202.73 445.19 L205.27 433.98 L207.82 397.94 L210.37 420.17 L212.91 416.48 L215.46 405.78 L218.01 407.63 L220.56 415.71 L223.10 416.91 L225.65 428.79 L228.20 432.65 L230.74 417.92 L233.29 415.37 L235.84 421.14 L238.38 412.10 L240.93 410.83 L243.48 415.12 L246.03 410.02 L248.57 413.78 L251.12 400.18 L253.67 407.72 L256.21 407.99 L258.76 408.87 L261.31 400.90 L263.85 396.33 L266.40 396.69 L268.95 398.60 L271.50 397.45 L274.04 408.19 L276.59 414.93 L279.14 415.26 L281.68 414.28 L284.23 401.79 L286.78 411.96 L289.32 409.24 L291.87 406.02 L294.42 407.27 L296.97 425.09 L299.51 421.09 L302.06 429.47 L304.61 403.26 L307.15 412.13 L309.70 399.68 L312.25 394.13 L314.79 399.24 L317.34 396.76 L319.89 399.81 L322.44 398.43 L324.98 395.25 L327.53 396.86 L330.08 394.92 L332.62 394.11 L335.17 385.21 L337.72 368.08 L340.26 367.36 L342.81 366.85 L345.36 364.77 L347.91 365.37 L350.45 370.98 L353.00 366.94 L355.55 371.44 L358.09 372.11 L360.64 364.45 L363.19 363.21 L365.73 370.41 L368.28 381.10 L370.83 379.41 L373.38 371.20 L375.92 370.46 L378.47 352.97 L381.02 354.98 L383.56 351.19 L386.11 354.72 L388.66 363.71 L391.20 360.06 L393.75 364.24 L396.30 363.61 L398.85 365.15 L401.39 368.34 L403.94 357.10 L406.49 363.93 L409.03 360.16 L411.58 352.37 L414.13 347.95 L416.67 375.61 L419.22 374.06 L421.77 370.38 L424.31 369.16 L426.86 372.33 L429.41 379.24 L431.96 391.72 L434.50 400.17 L437.05 396.87 L439.60 391.78 L442.14 391.31 L444.69 393.68 L447.24 397.86 L449.79 414.16 L452.33 399.32 L454.88 393.36 L457.43 392.90 L459.97 375.05 L462.52 375.63 L465.07 384.72 L467.61 398.92 L470.16 397.61 L472.71 400.47 L475.26 399.48 L477.80 392.63 L480.35 405.18 L482.90 403.63 L485.44 404.64 L487.99 411.10 L490.54 416.64 L493.08 421.82 L495.63 397.19 L498.18 394.50 L500.73 388.82 L503.27 390.48 L505.82 390.48 L508.37 388.98 L510.91 383.53 L513.46 392.12 L516.01 400.53 L518.55 385.12 L521.10 381.71 L523.65 391.89 L526.20 390.45 L528.74 385.66 L531.29 391.94 L533.84 388.38 L536.38 377.89 L538.93 362.31 L541.48 358.21 L544.02 358.89 L546.57 354.58 L549.12 352.44 L551.66 367.60 L554.21 365.18 L556.76 363.36 L559.31 374.16 L561.85 373.06 L564.40 377.85 L566.95 377.00 L569.49 367.29 L572.04 375.12 L574.59 378.60 L577.13 383.48 L579.68 382.02 L582.23 375.02 L584.78 384.54 L587.32 385.97 L589.87 386.73 L592.42 400.72 L594.96 414.58 L597.51 418.43 L600.06 407.19 L602.61 402.32 L605.15 407.37 L607.70 401.72 L610.25 388.08 L612.79 393.65 L615.34 394.28 L617.89 380.42 L620.43 384.43 L622.98 377.72 L625.53 366.34 L628.08 394.20 L630.62 398.66 L633.17 397.79 L635.72 397.79 L638.26 403.76 L640.81 418.07 L643.36 410.72 L645.90 417.63 L648.45 397.65 L651.00 403.59 L653.55 410.58 L656.09 421.36 L658.64 413.85 L661.19 415.46 L663.73 409.61 L666.28 422.78 L668.83 420.94 L671.37 422.45 L673.92 417.46 L676.47 408.50 L679.01 406.22 L681.56 410.23 L684.11 410.23 L686.66 412.39 L689.20 407.33 L691.75 401.88 L694.30 404.98 L696.84 392.53 L699.39 385.40 L701.94 383.26 L704.49 383.91 L707.03 387.90 L709.58 387.38 L712.13 380.24 L714.67 382.52 L717.22 379.90 L719.77 390.70 L722.31 390.09 L724.86 393.23 L727.41 410.72 L729.96 414.69 L732.50 405.23 L735.05 426.14 L737.60 421.37 L740.14 421.80 L742.69 405.04 L745.24 394.02 L747.78 395.71 L750.33 376.36 L752.88 370.25 L755.43 365.05 L757.97 364.77 L760.52 361.62 L763.07 358.33 L765.61 378.95 L768.16 372.78 L770.71 381.53 L773.25 414.22 L775.80 421.14 L778.35 404.81 L780.90 404.49 L783.44 410.98 L785.99 417.22 L788.54 423.87 L791.08 427.07" fill="none" stroke="#7f62c6" stroke-width="1.05"/>
<text transform="translate(654.00 226.80) scale(1 1.1)" x="0" y="0" font-size="10.5" fill="#1c1e24" stroke="#1c1e24" stroke-width="0.2" font-weight="normal" font-style="italic" text-anchor="start" textLength="54.80" lengthAdjust="spacingAndGlyphs">Yearly open</text>
<text transform="translate(101.30 314.90) scale(1 1.1)" x="0" y="0" font-size="10.5" fill="#de5a78" stroke="#de5a78" stroke-width="0.2" font-weight="normal" font-style="italic" text-anchor="start" textLength="84.80" lengthAdjust="spacingAndGlyphs">Wick and resweep</text>
<text transform="translate(656.00 177.00) scale(1 1.1)" x="0" y="0" font-size="10.5" fill="#de5a78" stroke="#de5a78" stroke-width="0.2" font-weight="normal" font-style="italic" text-anchor="start" textLength="88.80" lengthAdjust="spacingAndGlyphs">Wick and resweep?</text>
<text transform="translate(401.10 425.90) scale(1 1.1)" x="0" y="0" font-size="10.5" fill="#de5a78" stroke="#de5a78" stroke-width="0.2" font-weight="normal" font-style="italic" text-anchor="start" textLength="38.30" lengthAdjust="spacingAndGlyphs">RSI lows</text>
<text transform="translate(7.80 14.55) scale(1 1.1)" x="0" y="0" font-size="9.2" fill="#1c1f26" stroke="#1c1f26" stroke-width="0.2" font-weight="normal" font-style="normal" text-anchor="start" textLength="307.30" lengthAdjust="spacingAndGlyphs">OtterBiraajCharting created with TradingView.com, Oct 17, 2025 18:47 UTC</text>
<text transform="translate(13.90 34.90) scale(1 1.1)" x="0" y="0" font-size="8.7" fill="#1c1f26" stroke="#1c1f26" stroke-width="0.2" font-weight="normal" font-style="normal" text-anchor="start" textLength="229.10" lengthAdjust="spacingAndGlyphs">Bitcoin / TetherUS PERPETUAL CONTRACT · 1D · Binance</text>
<text transform="translate(249.20 34.90) scale(1 1.1)" x="0" y="0" font-size="8.7" fill="#1c1f26" stroke="#1c1f26" stroke-width="0.2" font-weight="normal" font-style="normal" text-anchor="start">O</text>
<text transform="translate(255.00 34.90) scale(1 1.1)" x="0" y="0" font-size="8.7" fill="#dc5364" stroke="#dc5364" stroke-width="0.2" font-weight="normal" font-style="normal" text-anchor="start" textLength="39.50" lengthAdjust="spacingAndGlyphs">108,129.4</text>
<text transform="translate(300.80 34.90) scale(1 1.1)" x="0" y="0" font-size="8.7" fill="#1c1f26" stroke="#1c1f26" stroke-width="0.2" font-weight="normal" font-style="normal" text-anchor="start">H</text>
<text transform="translate(307.00 34.90) scale(1 1.1)" x="0" y="0" font-size="8.7" fill="#dc5364" stroke="#dc5364" stroke-width="0.2" font-weight="normal" font-style="normal" text-anchor="start" textLength="39.00" lengthAdjust="spacingAndGlyphs">109,199.8</text>
<text transform="translate(352.50 34.90) scale(1 1.1)" x="0" y="0" font-size="8.7" fill="#1c1f26" stroke="#1c1f26" stroke-width="0.2" font-weight="normal" font-style="normal" text-anchor="start">L</text>
<text transform="translate(357.50 34.90) scale(1 1.1)" x="0" y="0" font-size="8.7" fill="#dc5364" stroke="#dc5364" stroke-width="0.2" font-weight="normal" font-style="normal" text-anchor="start" textLength="38.80" lengthAdjust="spacingAndGlyphs">103,470.0</text>
<text transform="translate(402.40 34.90) scale(1 1.1)" x="0" y="0" font-size="8.7" fill="#1c1f26" stroke="#1c1f26" stroke-width="0.2" font-weight="normal" font-style="normal" text-anchor="start">C</text>
<text transform="translate(408.50 34.90) scale(1 1.1)" x="0" y="0" font-size="8.7" fill="#dc5364" stroke="#dc5364" stroke-width="0.2" font-weight="normal" font-style="normal" text-anchor="start" textLength="38.40" lengthAdjust="spacingAndGlyphs">106,707.5</text>
<text transform="translate(452.90 34.90) scale(1 1.1)" x="0" y="0" font-size="8.7" fill="#dc5364" stroke="#dc5364" stroke-width="0.2" font-weight="normal" font-style="normal" text-anchor="start" textLength="72.10" lengthAdjust="spacingAndGlyphs">−1,421.9 (−1.31%)</text>
<text transform="translate(13.80 47.60) scale(1 1.1)" x="0" y="0" font-size="8.7" fill="#1c1f26" stroke="#1c1f26" stroke-width="0.2" font-weight="normal" font-style="normal" text-anchor="start" textLength="61.40" lengthAdjust="spacingAndGlyphs">EMA (50, close)</text>
<text transform="translate(82.30 47.60) scale(1 1.1)" x="0" y="0" font-size="8.7" fill="#5068c8" stroke="#5068c8" stroke-width="0.2" font-weight="normal" font-style="normal" text-anchor="start" textLength="38.00" lengthAdjust="spacingAndGlyphs">114,680.1</text>
<text transform="translate(13.80 60.10) scale(1 1.1)" x="0" y="0" font-size="8.7" fill="#1c1f26" stroke="#1c1f26" stroke-width="0.2" font-weight="normal" font-style="normal" text-anchor="start" textLength="66.70" lengthAdjust="spacingAndGlyphs">EMA (200, close)</text>
<text transform="translate(87.40 60.10) scale(1 1.1)" x="0" y="0" font-size="8.7" fill="#7ec9b5" stroke="#7ec9b5" stroke-width="0.2" font-weight="normal" font-style="normal" text-anchor="start" textLength="38.40" lengthAdjust="spacingAndGlyphs">108,002.2</text>
<text transform="translate(13.80 72.60) scale(1 1.1)" x="0" y="0" font-size="8.7" fill="#1c1f26" stroke="#1c1f26" stroke-width="0.2" font-weight="normal" font-style="normal" text-anchor="start" textLength="66.70" lengthAdjust="spacingAndGlyphs">EMA (100, close)</text>
<text transform="translate(87.00 72.60) scale(1 1.1)" x="0" y="0" font-size="8.7" fill="#f0b040" stroke="#f0b040" stroke-width="0.2" font-weight="normal" font-style="normal" text-anchor="start" textLength="38.80" lengthAdjust="spacingAndGlyphs">113,170.6</text>
<text transform="translate(13.80 351.30) scale(1 1.1)" x="0" y="0" font-size="8.7" fill="#1c1f26" stroke="#1c1f26" stroke-width="0.2" font-weight="normal" font-style="normal" text-anchor="start" textLength="57.30" lengthAdjust="spacingAndGlyphs">RSI (14, close)</text>
<text transform="translate(76.90 351.30) scale(1 1.1)" x="0" y="0" font-size="8.7" fill="#8a6cc8" stroke="#8a6cc8" stroke-width="0.2" font-weight="normal" font-style="normal" text-anchor="start" textLength="22.00" lengthAdjust="spacingAndGlyphs">35.42</text>
<text transform="translate(104.00 351.30) scale(1 1.1)" x="0" y="0" font-size="8.7" fill="#f3d66a" stroke="#f3d66a" stroke-width="0.2" font-weight="normal" font-style="normal" text-anchor="start" textLength="22.30" lengthAdjust="spacingAndGlyphs">52.29</text>
<text transform="translate(969.20 72.20) scale(1 1.1)" x="0" y="0" font-size="9.0" fill="#1c1f26" stroke="#1c1f26" stroke-width="0.2" font-weight="normal" font-style="normal" text-anchor="start" textLength="39.60" lengthAdjust="spacingAndGlyphs">126,000.0</text>
<text transform="translate(969.20 104.30) scale(1 1.1)" x="0" y="0" font-size="9.0" fill="#1c1f26" stroke="#1c1f26" stroke-width="0.2" font-weight="normal" font-style="normal" text-anchor="start" textLength="39.60" lengthAdjust="spacingAndGlyphs">117,000.0</text>
<text transform="translate(969.20 138.50) scale(1 1.1)" x="0" y="0" font-size="9.0" fill="#1c1f26" stroke="#1c1f26" stroke-width="0.2" font-weight="normal" font-style="normal" text-anchor="start" textLength="39.60" lengthAdjust="spacingAndGlyphs">109,000.0</text>
<text transform="translate(969.20 176.20) scale(1 1.1)" x="0" y="0" font-size="9.0" fill="#1c1f26" stroke="#1c1f26" stroke-width="0.2" font-weight="normal" font-style="normal" text-anchor="start" textLength="39.60" lengthAdjust="spacingAndGlyphs">101,000.0</text>
<text transform="translate(969.20 200.80) scale(1 1.1)" x="0" y="0" font-size="9.0" fill="#1c1f26" stroke="#1c1f26" stroke-width="0.2" font-weight="normal" font-style="normal" text-anchor="start" textLength="34.40" lengthAdjust="spacingAndGlyphs">96,000.0</text>
<text transform="translate(969.20 232.20) scale(1 1.1)" x="0" y="0" font-size="9.0" fill="#1c1f26" stroke="#1c1f26" stroke-width="0.2" font-weight="normal" font-style="normal" text-anchor="start" textLength="34.40" lengthAdjust="spacingAndGlyphs">90,000.0</text>
<text transform="translate(969.20 266.00) scale(1 1.1)" x="0" y="0" font-size="9.0" fill="#1c1f26" stroke="#1c1f26" stroke-width="0.2" font-weight="normal" font-style="normal" text-anchor="start" textLength="34.40" lengthAdjust="spacingAndGlyphs">84,000.0</text>
<text transform="translate(969.20 290.00) scale(1 1.1)" x="0" y="0" font-size="9.0" fill="#1c1f26" stroke="#1c1f26" stroke-width="0.2" font-weight="normal" font-style="normal" text-anchor="start" textLength="34.40" lengthAdjust="spacingAndGlyphs">80,000.0</text>
<text transform="translate(969.20 314.60) scale(1 1.1)" x="0" y="0" font-size="9.0" fill="#1c1f26" stroke="#1c1f26" stroke-width="0.2" font-weight="normal" font-style="normal" text-anchor="start" textLength="34.40" lengthAdjust="spacingAndGlyphs">76,000.0</text>
<text transform="translate(968.80 348.20) scale(1 1.1)" x="0" y="0" font-size="9.0" fill="#1c1f26" stroke="#1c1f26" stroke-width="0.2" font-weight="normal" font-style="normal" text-anchor="start" textLength="22.10" lengthAdjust="spacingAndGlyphs">80.00</text>
<text transform="translate(968.80 385.50) scale(1 1.1)" x="0" y="0" font-size="9.0" fill="#1c1f26" stroke="#1c1f26" stroke-width="0.2" font-weight="normal" font-style="normal" text-anchor="start" textLength="22.10" lengthAdjust="spacingAndGlyphs">60.00</text>
<text transform="translate(968.80 422.30) scale(1 1.1)" x="0" y="0" font-size="9.0" fill="#1c1f26" stroke="#1c1f26" stroke-width="0.2" font-weight="normal" font-style="normal" text-anchor="start" textLength="22.10" lengthAdjust="spacingAndGlyphs">40.00</text>
<text transform="translate(968.80 458.90) scale(1 1.1)" x="0" y="0" font-size="9.0" fill="#1c1f26" stroke="#1c1f26" stroke-width="0.2" font-weight="normal" font-style="normal" text-anchor="start" textLength="22.10" lengthAdjust="spacingAndGlyphs">20.00</text>
<rect x="963" y="58.20" width="50.00" height="12.70" rx="1" fill="#4caf50"/>
<text transform="translate(969.20 67.70) scale(1 1.1)" x="0" y="0" font-size="9.0" fill="#fff" stroke="#fff" stroke-width="0.2" font-weight="normal" font-style="normal" text-anchor="start" textLength="39.60" lengthAdjust="spacingAndGlyphs">126,208.5</text>
<rect x="963" y="94.50" width="50.00" height="12.00" rx="1" fill="#131722"/>
<text transform="translate(969.20 103.70) scale(1 1.1)" x="0" y="0" font-size="9.0" fill="#fff" stroke="#fff" stroke-width="0.2" font-weight="normal" font-style="normal" text-anchor="start" textLength="39.60" lengthAdjust="spacingAndGlyphs">117,147.9</text>
<rect x="963" y="140.20" width="50.00" height="22.50" rx="1" fill="#f23645"/>
<text transform="translate(969.20 149.60) scale(1 1.1)" x="0" y="0" font-size="9.0" fill="#fff" stroke="#fff" stroke-width="0.2" font-weight="normal" font-style="normal" text-anchor="start" textLength="39.60" lengthAdjust="spacingAndGlyphs">106,707.5</text>
<text transform="translate(969.20 160.20) scale(1 1.1)" x="0" y="0" font-size="9.0" fill="#fcd9dc" stroke="#fcd9dc" stroke-width="0.2" font-weight="normal" font-style="normal" text-anchor="start" textLength="34.40" lengthAdjust="spacingAndGlyphs">05:12:50</text>
<rect x="963" y="171.80" width="50.00" height="12.40" rx="1" fill="#2962ff"/>
<text transform="translate(969.20 181.20) scale(1 1.1)" x="0" y="0" font-size="9.0" fill="#fff" stroke="#fff" stroke-width="0.2" font-weight="normal" font-style="normal" text-anchor="start" textLength="39.60" lengthAdjust="spacingAndGlyphs">100,000.0</text>
<rect x="963" y="205.00" width="44.60" height="12.30" rx="1" fill="#089981"/>
<text transform="translate(968.80 214.40) scale(1 1.1)" x="0" y="0" font-size="9.0" fill="#fff" stroke="#fff" stroke-width="0.2" font-weight="normal" font-style="normal" text-anchor="start" textLength="34.80" lengthAdjust="spacingAndGlyphs">93,500.0</text>
<clipPath id="cp"><rect x="960" y="300" width="60" height="36"/></clipPath>
<g clip-path="url(#cp)">
<rect x="963" y="328.00" width="44.60" height="12.00" rx="1" fill="#f23645"/>
<text transform="translate(968.80 337.00) scale(1 1.1)" x="0" y="0" font-size="9.0" fill="#fff" stroke="#fff" stroke-width="0.2" font-weight="normal" font-style="normal" text-anchor="start" textLength="34.80" lengthAdjust="spacingAndGlyphs">73,755.0</text>
</g>
<rect x="963" y="316.00" width="44.60" height="12.00" rx="1" fill="#089981"/>
<text transform="translate(968.80 325.20) scale(1 1.1)" x="0" y="0" font-size="9.0" fill="#fff" stroke="#fff" stroke-width="0.2" font-weight="normal" font-style="normal" text-anchor="start" textLength="34.80" lengthAdjust="spacingAndGlyphs">74,457.0</text>
<rect x="963" y="423.50" width="32.00" height="12.20" rx="1" fill="#089981"/>
<text transform="translate(968.80 432.80) scale(1 1.1)" x="0" y="0" font-size="9.0" fill="#fff" stroke="#fff" stroke-width="0.2" font-weight="normal" font-style="normal" text-anchor="start" textLength="22.10" lengthAdjust="spacingAndGlyphs">34.02</text>
<rect x="965.5" y="23.5" width="47.5" height="18.8" rx="2.5" fill="#fff" stroke="#f7f8fa" stroke-width="1"/>
<text transform="translate(971.80 36.20) scale(1 1.1)" x="0" y="0" font-size="8.6" fill="#1c1f26" stroke="#1c1f26" stroke-width="0.2" font-weight="normal" font-style="normal" text-anchor="start" textLength="20.60" lengthAdjust="spacingAndGlyphs">USDT</text>
<text x="55.40" y="472.7" font-size="9" fill="#1c1f26" stroke="#1c1f26" stroke-width="0.2" font-weight="bold" text-anchor="middle">2025</text>
<text x="134.00" y="472.7" font-size="9" fill="#1c1f26" stroke="#1c1f26" stroke-width="0.2" font-weight="normal" text-anchor="middle">Feb</text>
<text x="205.30" y="472.7" font-size="9" fill="#1c1f26" stroke="#1c1f26" stroke-width="0.2" font-weight="normal" text-anchor="middle">Mar</text>
<text x="284.20" y="472.7" font-size="9" fill="#1c1f26" stroke="#1c1f26" stroke-width="0.2" font-weight="normal" text-anchor="middle">Apr</text>
<text x="360.60" y="472.7" font-size="9" fill="#1c1f26" stroke="#1c1f26" stroke-width="0.2" font-weight="normal" text-anchor="middle">May</text>
<text x="439.60" y="472.7" font-size="9" fill="#1c1f26" stroke="#1c1f26" stroke-width="0.2" font-weight="normal" text-anchor="middle">Jun</text>
<text x="516.00" y="472.7" font-size="9" fill="#1c1f26" stroke="#1c1f26" stroke-width="0.2" font-weight="normal" text-anchor="middle">Jul</text>
<text x="595.00" y="472.7" font-size="9" fill="#1c1f26" stroke="#1c1f26" stroke-width="0.2" font-weight="normal" text-anchor="middle">Aug</text>
<text x="673.90" y="472.7" font-size="9" fill="#1c1f26" stroke="#1c1f26" stroke-width="0.2" font-weight="normal" text-anchor="middle">Sep</text>
<text x="750.30" y="472.7" font-size="9" fill="#1c1f26" stroke="#1c1f26" stroke-width="0.2" font-weight="normal" text-anchor="middle">Oct</text>
<text x="829.30" y="472.7" font-size="9" fill="#1c1f26" stroke="#1c1f26" stroke-width="0.2" font-weight="normal" text-anchor="middle">Nov</text>
<text x="905.70" y="472.7" font-size="9" fill="#1c1f26" stroke="#1c1f26" stroke-width="0.2" font-weight="normal" text-anchor="middle">Dec</text>
<g fill="#131722"><path d="M9.05 496.2H17.8V507.6H13.6V500.6H9.05Z"/><circle cx="21.8" cy="498.3" r="2.1"/><path d="M26.2 496.2H31.5L27.3 507.6H22.4Z"/></g>
<text transform="translate(36.90 507.30) scale(1 1.0)" x="0" y="0" font-size="15.8" fill="#131722" stroke="#131722" stroke-width="0" font-weight="bold" font-style="normal" text-anchor="start" textLength="90.90" lengthAdjust="spacingAndGlyphs">TradingView</text>
</g>
</svg>
</body></html>
